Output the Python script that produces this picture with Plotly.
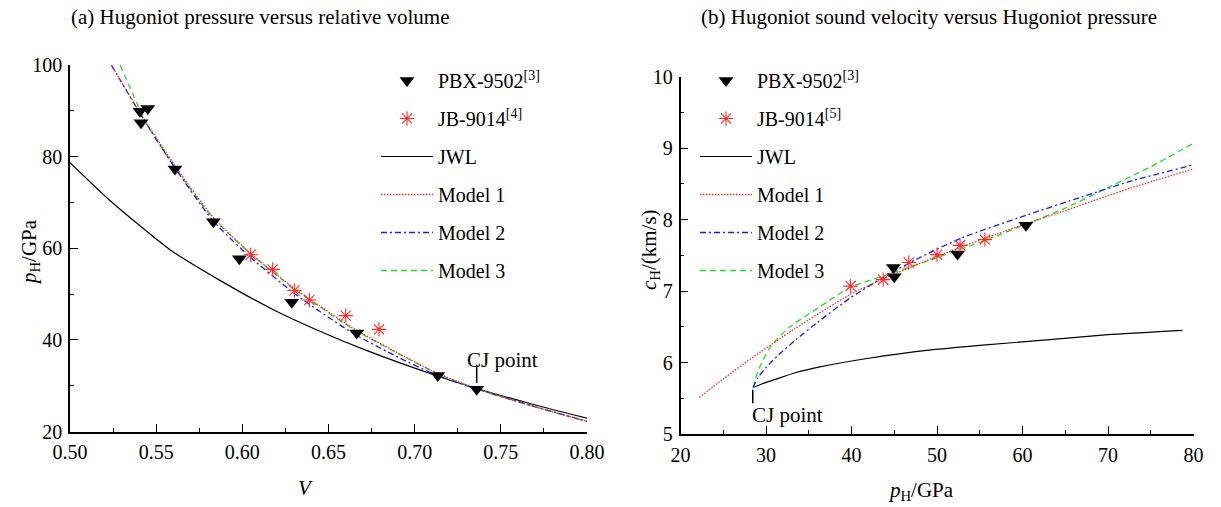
import plotly.graph_objects as go

W, H = 1221, 507
FONT = "Liberation Serif, Times New Roman, serif"

# ---------------- panel (a): Hugoniot pressure versus relative volume ----------------
a_pbx_v = [0.5406, 0.5451, 0.5412, 0.5609, 0.5832, 0.5983, 0.6287, 0.6664, 0.7134, 0.7360]
a_pbx_p = [89.9, 90.5, 87.4, 77.3, 65.8, 57.7, 48.2, 41.5, 32.2, 29.2]

a_jb_v = [0.6049, 0.6176, 0.6302, 0.6389, 0.6600, 0.6793]
a_jb_p = [58.6, 55.4, 50.8, 48.7, 45.3, 42.3]

a_jwl_v = [0.500, 0.523, 0.558, 0.587, 0.618, 0.645, 0.672, 0.711, 0.736, 0.769, 0.800]
a_jwl_p = [78.7, 70.5, 59.7, 53.0, 46.6, 41.9, 37.7, 32.4, 29.4, 25.9, 22.9]

a_m1_v = [0.524, 0.541, 0.561, 0.583, 0.6045, 0.630, 0.645, 0.664, 0.6915, 0.7134, 0.736, 0.769, 0.800]
a_m1_p = [100.0, 89.4, 78.0, 66.8, 59.0, 51.3, 47.4, 42.6, 36.9, 32.7, 29.3, 25.5, 22.2]

a_m2_v = [0.524, 0.541, 0.561, 0.583, 0.6045, 0.630, 0.645, 0.664, 0.6915, 0.7134, 0.736, 0.769, 0.800]
a_m2_p = [100.0, 89.2, 77.5, 66.0, 58.1, 50.2, 46.2, 41.5, 36.0, 32.2, 29.3, 25.5, 22.2]

a_m3_v = [0.529, 0.5387, 0.5435, 0.561, 0.583, 0.6045, 0.630, 0.645, 0.664, 0.6915, 0.7134, 0.736, 0.769, 0.800]
a_m3_p = [100.0, 91.8, 87.7, 77.6, 66.6, 58.9, 51.1, 47.2, 42.4, 36.8, 32.6, 29.3, 25.5, 22.2]

a_cj_v, a_cj_p = 0.736, 29.2

a_xticks = [0.50, 0.55, 0.60, 0.65, 0.70, 0.75, 0.80]
a_yticks = [20, 40, 60, 80, 100]

# ---------------- panel (b): Hugoniot sound velocity versus Hugoniot pressure ----------------
b_pbx_p = [44.9, 45.0, 52.4, 60.4]
b_pbx_c = [7.33, 7.20, 7.52, 7.92]

b_jb_p = [39.9, 43.7, 46.7, 50.0, 52.7, 55.6]
b_jb_c = [7.07, 7.16, 7.40, 7.51, 7.64, 7.72]

b_jwl_p = [28.5, 29.5, 31.0, 33.5, 36.3, 42.0, 48.0, 55.0, 63.2, 70.0, 78.7]
b_jwl_c = [5.65, 5.70, 5.76, 5.86, 5.94, 6.06, 6.16, 6.24, 6.32, 6.39, 6.45]

b_m1_p = [22.2, 25.0, 28.3, 33.2, 39.8, 43.7, 50.3, 57.0, 64.8, 72.6, 80.0]
b_m1_c = [5.51, 5.77, 6.06, 6.46, 6.95, 7.17, 7.50, 7.80, 8.12, 8.44, 8.71]

b_m2_p = [28.5, 29.0, 30.0, 31.5, 33.5, 36.0, 39.8, 43.7, 48.0, 53.0, 60.4, 67.0, 73.0, 79.8]
b_m2_c = [5.65, 5.78, 5.93, 6.11, 6.32, 6.56, 6.90, 7.19, 7.47, 7.75, 8.06, 8.32, 8.55, 8.76]

b_m3_p = [28.5, 29.1, 30.5, 32.8, 36.3, 39.8, 43.7, 49.6, 55.4, 60.9, 65.0, 70.0, 75.0, 80.0]
b_m3_c = [5.65, 5.89, 6.22, 6.50, 6.78, 7.05, 7.21, 7.45, 7.70, 7.96, 8.16, 8.45, 8.74, 9.07]

b_cj_p, b_cj_c = 28.45, 5.65

b_xticks = [20, 30, 40, 50, 60, 70, 80]
b_yticks = [5, 6, 7, 8, 9, 10]

RED = "#ff2a2a"
BLUE = "#1a1aff"
GREEN = "#22dd22"

fig = go.Figure()


def add_panel(xa, ya, leg, jb_label, pbx, jb, jwl, m1, m2, m3):
    common = dict(xaxis=xa, yaxis=ya, legend=leg)
    fig.add_trace(go.Scatter(x=jwl[0], y=jwl[1], mode="lines", name="JWL",
                             line=dict(color="black", width=1.2, shape="spline", smoothing=0.6),
                             legendrank=3, legendgroup=leg + "jwl", **common))
    fig.add_trace(go.Scatter(x=m3[0], y=m3[1], mode="lines", name="Model 3",
                             line=dict(color=GREEN, width=1.3, dash="6px,4px", shape="spline", smoothing=0.6),
                             legendrank=6, legendgroup=leg + "m3", **common))
    fig.add_trace(go.Scatter(x=m2[0], y=m2[1], mode="lines", name="Model 2",
                             line=dict(color=BLUE, width=1.3, dash="6px,3px,2px,3px", shape="spline", smoothing=0.6),
                             legendrank=5, legendgroup=leg + "m2", **common))
    fig.add_trace(go.Scatter(x=m1[0], y=m1[1], mode="lines", name="Model 1",
                             line=dict(color=RED, width=1.3, dash="1.5px,1.5px", shape="spline", smoothing=0.6),
                             legendrank=4, legendgroup=leg + "m1", **common))
    fig.add_trace(go.Scatter(x=pbx[0], y=pbx[1], mode="markers", name="PBX-9502<sup>[3]</sup>",
                             marker=dict(symbol="triangle-down", size=13, color="black"),
                             legendrank=1, legendgroup=leg + "pbx", **common))
    fig.add_trace(go.Scatter(x=jb[0], y=jb[1], mode="markers", name=jb_label,
                             marker=dict(symbol="asterisk-open", size=12, color=RED,
                                         line=dict(color=RED, width=1.1)),
                             legendrank=2, legendgroup=leg + "jb", **common))


add_panel("x", "y", "legend", "JB-9014<sup>[4]</sup>",
          (a_pbx_v, a_pbx_p), (a_jb_v, a_jb_p), (a_jwl_v, a_jwl_p),
          (a_m1_v, a_m1_p), (a_m2_v, a_m2_p), (a_m3_v, a_m3_p))
add_panel("x2", "y2", "legend2", "JB-9014<sup>[5]</sup>",
          (b_pbx_p, b_pbx_c), (b_jb_p, b_jb_c), (b_jwl_p, b_jwl_c),
          (b_m1_p, b_m1_c), (b_m2_p, b_m2_c), (b_m3_p, b_m3_c))

tickfont = dict(family=FONT, size=20, color="black")


def axis(domain, rng, tickvals, fmt, minor_dtick, anchor):
    return dict(domain=domain, range=rng, tickvals=tickvals, tickformat=fmt,
                showline=True, linecolor="black", linewidth=1.5, mirror=False,
                ticks="inside", ticklen=8, tickwidth=1.2, tickcolor="black",
                minor=dict(ticks="inside", ticklen=4, tickwidth=1.2, tickcolor="black",
                           dtick=minor_dtick, showgrid=False),
                showgrid=False, zeroline=False, tickfont=tickfont, anchor=anchor,
                automargin=False, ticklabelstandoff=2)


legend_common = dict(font=dict(family=FONT, size=20, color="black"),
                     bgcolor="rgba(0,0,0,0)", borderwidth=0, traceorder="grouped",
                     tracegroupgap=9, itemwidth=52, xanchor="left", yanchor="top")

fig.update_layout(
    width=W, height=H, autosize=False,
    margin=dict(l=0, r=0, t=0, b=0, autoexpand=False),
    paper_bgcolor="white", plot_bgcolor="white",
    font=dict(family=FONT, size=20, color="black"),
    xaxis=axis([70 / W, 587 / W], [0.5, 0.8], a_xticks, ".2f", 0.025, "y"),
    yaxis=axis([1 - 431.5 / H, 1 - 65.1 / H], [20, 100], a_yticks, "d", 10, "x"),
    xaxis2=axis([680.5 / W, 1193.5 / W], [20, 80], b_xticks, "d", 5, "y2"),
    yaxis2=axis([1 - 434 / H, 1 - 76.7 / H], [5, 10], b_yticks, "d", 0.5, "x2"),
    legend=dict(x=376 / W, y=1 - 61 / H, **legend_common),
    legend2=dict(x=695 / W, y=1 - 61 / H, **legend_common),
    showlegend=True,
)

ann_font = dict(family=FONT, size=21, color="black")


def paper_text(text, px, py, angle=0):
    return dict(text=text, x=px / W, y=1 - py / H, xref="paper", yref="paper",
                xanchor="center", yanchor="middle", showarrow=False,
                textangle=angle, font=ann_font)


annotations = [
    paper_text("(a) Hugoniot pressure versus relative volume", 260, 17),
    paper_text("(b) Hugoniot sound velocity versus Hugoniot pressure", 929, 17),
    paper_text("<i>V</i>", 305, 488),
    paper_text("<i>p</i><sub>H</sub>/GPa", 921, 491),
    paper_text("<i>p</i><sub>H</sub>/GPa", 30, 252, -90),
    paper_text("<i>c</i><sub>H</sub>/(km/s)", 650, 250, -90),
    dict(text="CJ point", x=a_cj_v + 0.015, y=a_cj_p + 6.5, xref="x", yref="y",
         xanchor="center", yanchor="middle", showarrow=False, font=ann_font),
    dict(text="CJ point", x=b_cj_p - 0.3, y=b_cj_c - 0.38, xref="x2", yref="y2",
         xanchor="left", yanchor="middle", showarrow=False, font=ann_font),
]
fig.update_layout(annotations=annotations)

fig.add_shape(type="line", xref="x", yref="y", x0=a_cj_v, x1=a_cj_v, y0=a_cj_p + 1.4, y1=a_cj_p + 5.4,
              line=dict(color="black", width=1.5))
fig.add_shape(type="line", xref="x2", yref="y2", x0=b_cj_p, x1=b_cj_p, y0=b_cj_c - 0.03, y1=b_cj_c - 0.22,
              line=dict(color="black", width=1.5))

fig.write_html(
    "out.html",
    config={"displayModeBar": False},
    post_script="document.body.style.margin='0';document.body.style.overflow='hidden';",
)
